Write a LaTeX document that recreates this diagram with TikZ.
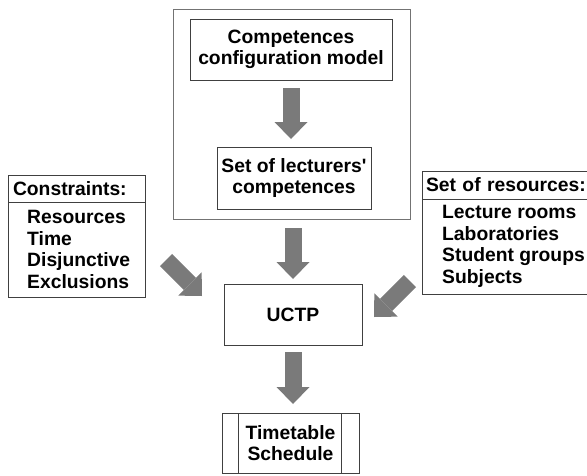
\documentclass[tikz,border=0pt]{standalone}
\usepackage{fontspec}
\setmainfont{Liberation Sans}
\usepackage{tikz}
\usetikzlibrary{positioning,arrows.meta}

\begin{document}
\begin{tikzpicture}[
            x=1pt,
            y=1pt,
            font=\fontsize{19.3}{21.6}\selectfont\bfseries,
            box/.style={
                rectangle,
                draw=black!75,
                line width=0.9pt,
                inner sep=0pt,
                outer sep=0pt,
                align=center
            },
            frame/.style={
                rectangle,
                draw=black!55,
                line width=1.2pt
            },
            listhead/.style={
                box,
                minimum height=27pt,
                inner xsep=5pt,
                align=left
            },
            listtext/.style={
                inner sep=0pt,
                align=left
            },
            bigarrow/.style={
                line width=17pt,
                draw=black!52,
                -{Triangle[length=17pt, width=33pt, line width=0pt]}
            }
        ]
            \useasboundingbox (0,0) rectangle (587,-475);

            % Define nodes
            \node[frame, minimum width=237pt, minimum height=210pt, anchor=north west] (lect) at (173,-9) {};
            \node[box, minimum width=202pt, minimum height=61pt] (model) at (291,-49.5) {Competences\\configuration model};
            \node[box, minimum width=154pt, minimum height=62pt] (compet) at (294,-178) {Set of lecturers\textquotesingle\\competences};
            \node[box, minimum width=138pt, minimum height=61pt] (uctp) at (293,-314.5) {UCTP};
            \node[box, minimum width=137pt, minimum height=60pt] (sched) at (290.5,-443) {Timetable\\Schedule};
            \draw[black!75, line width=0.9pt] ([xshift=16pt]sched.north west) -- ([xshift=16pt]sched.south west);
            \draw[black!75, line width=0.9pt] ([xshift=-18pt]sched.north east) -- ([xshift=-18pt]sched.south east);

            \node[listhead, text width=127pt, anchor=north west] (cons) at (8,-175) {Constraints:};
            \node[box, minimum width=137pt, minimum height=95pt, below=0pt of cons] (consbody) {};
            \node[listtext, right=19pt of consbody.west] (conslist) {Resources\\Time\\Disjunctive\\Exclusions};

            \node[listhead, text width=170pt, inner xsep=4pt, minimum height=28pt, anchor=north west] (res) at (422,-171) {Set of resources:};
            \node[box, minimum width=178pt, minimum height=95pt, below=0pt of res] (resbody) {};
            \node[listtext, right=20pt of resbody.west] (reslist) {Lecture rooms\\Laboratories\\Student groups\\Subjects};

            % Draw edges
            \draw[bigarrow, shorten <=8pt, shorten >=8pt] (model.south) -- (model.south |- compet.north);
            \draw[bigarrow, shorten <=8pt, shorten >=5pt] (uctp.north |- lect.south) -- (uctp.north);
            \draw[bigarrow, shorten <=7pt, shorten >=9pt] (uctp.south) -- (uctp.south |- sched.north);
            \draw[bigarrow] ([shift={(21pt,-10.5pt)}]consbody.east) -- ([shift={(-22pt,18.5pt)}]uctp.west);
            \draw[bigarrow] ([shift={(-12pt,13pt)}]resbody.south west) -- ([shift={(12pt,-2.5pt)}]uctp.east);
        \end{tikzpicture}
\end{document}
